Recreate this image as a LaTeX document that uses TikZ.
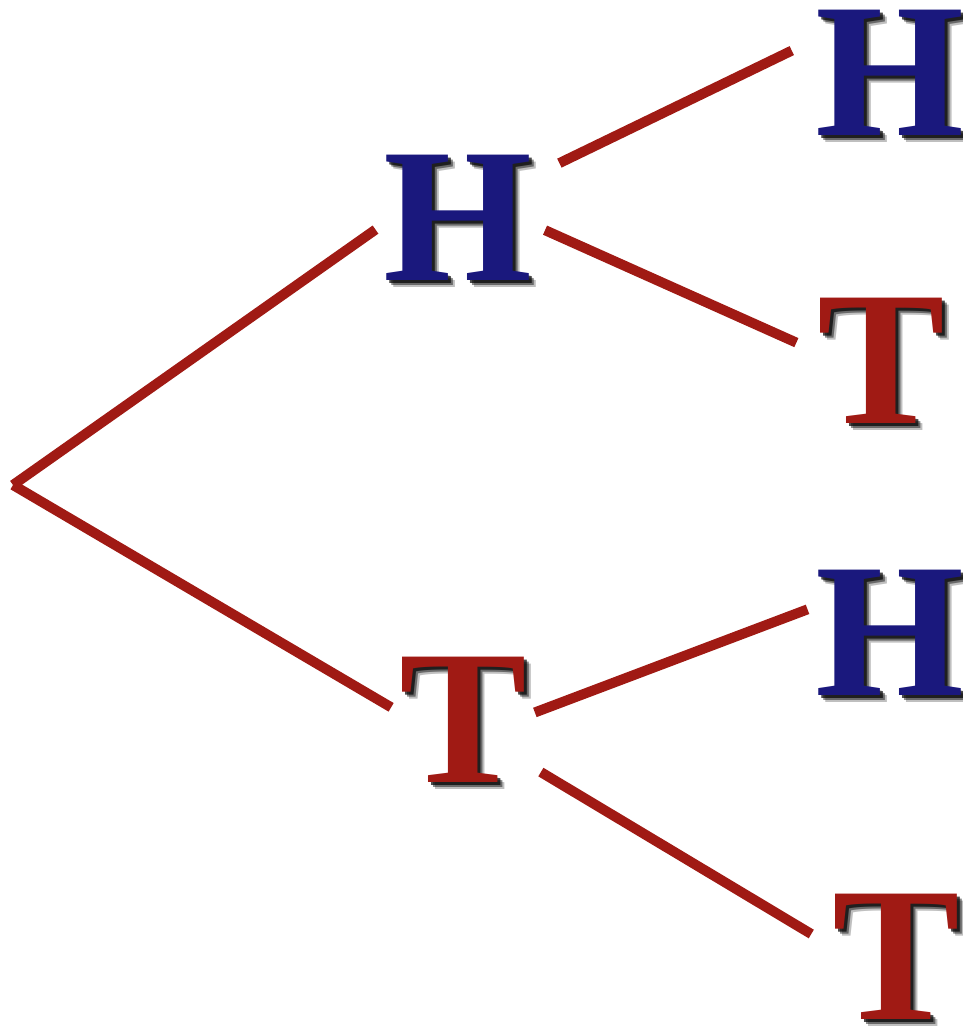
\documentclass[tikz,border=0pt]{standalone}
\usepackage{fontspec}
\setmainfont{Liberation Serif}
\usetikzlibrary{positioning}
\definecolor{headblue}{RGB}{26,24,125}
\definecolor{tailred}{RGB}{160,26,20}

\begin{document}
\begin{tikzpicture}[
    x=0.02cm, y=-0.02cm,
    coin/.style={font=\fontsize{109}{109}\selectfont\bfseries, inner sep=0pt, outer sep=0.16cm},
    branch/.style={tailred, line width=0.2cm}
]
\useasboundingbox (0,0) rectangle (963,1031);

% Drop shadows
\foreach \x/\y/\t in {458/218/H, 890/73/H, 881/361/T, 463/720/T, 890/633/H, 896/957/T} {
    \foreach \d/\o in {7/0.25, 5/0.45, 3/0.7} {
        \node[coin, text=black, opacity=\o] at (\x+\d,\y+\d) {\t};
    }
}

% Outcomes
\coordinate (root) at (13,485);
\node[coin, text=headblue] (h) at (458,218) {H};
\node[coin, text=tailred] (t) at (463,720) {T};
\node[coin, text=headblue] (hh) at (890,73) {H};
\node[coin, text=tailred] (ht) at (881,361) {T};
\node[coin, text=headblue] (th) at (890,633) {H};
\node[coin, text=tailred] (tt) at (896,957) {T};

% Branches
\draw[branch] (root) -- (h.188);
\draw[branch] (root) -- (t.170);
\draw[branch, shorten <=0.42cm, shorten >=0.35cm] (h.29) -- (hh.160);
\draw[branch, shorten <=0.1cm, shorten >=0.28cm] (h.-7) -- (ht.170);
\draw[branch] (t.6) -- (th.164);
\draw[branch, shorten <=0.14cm, shorten >=0.3cm] (t.-34) -- (tt.168);

\end{tikzpicture}
\end{document}
